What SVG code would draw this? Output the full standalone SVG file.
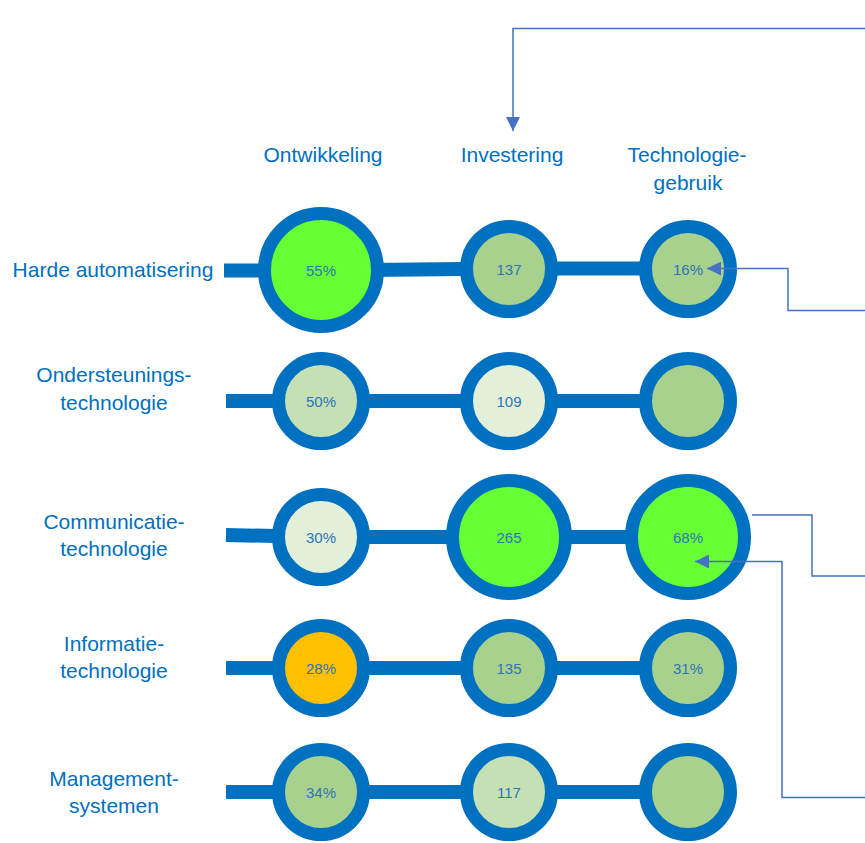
<svg xmlns="http://www.w3.org/2000/svg" width="865" height="843" viewBox="0 0 865 843">
<style>
.lbl{font-family:"Liberation Sans",Arial,sans-serif;font-size:21px;fill:#0070C0;text-anchor:middle}
.val{font-family:"Liberation Sans",Arial,sans-serif;font-size:15px;fill:#2E75B6;text-anchor:middle;dominant-baseline:central}
.ring{stroke:#0070C0;stroke-width:13}
.bar{stroke:#0070C0;stroke-width:14;fill:none}
.conn{stroke:#4472C4;stroke-width:1.5;fill:none}
.g1{fill:#66FF33}.g2{fill:#A9D18E}.g3{fill:#C5E0B4}.g4{fill:#E2F0D9}.o{fill:#FFC000}
</style>
<defs>
<marker id="ah" viewBox="0 0 10 10" refX="10" refY="5" markerWidth="10" markerHeight="10" markerUnits="userSpaceOnUse" orient="auto">
<path d="M0,0 L10,5 L0,10 Z" fill="#4472C4"/>
</marker>
<marker id="ahb" viewBox="0 0 14 14" refX="14" refY="7" markerWidth="14" markerHeight="14" markerUnits="userSpaceOnUse" orient="auto">
<path d="M0,0 L14,7 L0,14 Z" fill="#4472C4"/>
</marker>
</defs>
<g id="headers">
<text class="lbl" x="323" y="162">Ontwikkeling</text>
<text class="lbl" x="512" y="162">Investering</text>
<text class="lbl" x="687" y="162">Technologie-</text>
<text class="lbl" x="688" y="190">gebruik</text>
</g>
<g id="row-labels">
<text class="lbl" x="113" y="277">Harde automatisering</text>
<text class="lbl" x="114" y="382">Ondersteunings-</text>
<text class="lbl" x="114" y="410">technologie</text>
<text class="lbl" x="114" y="529">Communicatie-</text>
<text class="lbl" x="114" y="556">technologie</text>
<text class="lbl" x="114" y="651">Informatie-</text>
<text class="lbl" x="114" y="678">technologie</text>
<text class="lbl" x="114" y="786">Management-</text>
<text class="lbl" x="114" y="813">systemen</text>
</g>
<g id="bars">
<path class="bar" d="M224,270.5 L321,270.5 L509,268.5 L688,268.5"/>
<path class="bar" d="M226,401 L688,401"/>
<path class="bar" d="M226,535 L321,537 L688,537"/>
<path class="bar" d="M226,668 L688,668"/>
<path class="bar" d="M226,792 L688,792"/>
</g>
<g id="row1">
<g id="n-ha-ontw"><circle class="ring g1" cx="321" cy="270" r="56.5"/><text class="val" x="321" y="270">55%</text></g>
<g id="n-ha-inv"><circle class="ring g2" cx="509" cy="269" r="42.5"/><text class="val" x="509" y="269">137</text></g>
<g id="n-ha-tech"><circle class="ring g2" cx="688" cy="269" r="42.5"/><text class="val" x="688" y="269">16%</text></g>
</g>
<g id="row2">
<g id="n-os-ontw"><circle class="ring g3" cx="321" cy="401" r="42.5"/><text class="val" x="321" y="401">50%</text></g>
<g id="n-os-inv"><circle class="ring g4" cx="509" cy="401" r="42.5"/><text class="val" x="509" y="401">109</text></g>
<g id="n-os-tech"><circle class="ring g2" cx="688" cy="401" r="42.5"/></g>
</g>
<g id="row3">
<g id="n-ct-ontw"><circle class="ring g4" cx="321" cy="537" r="42.5"/><text class="val" x="321" y="537">30%</text></g>
<g id="n-ct-inv"><circle class="ring g1" cx="509" cy="537" r="56.5"/><text class="val" x="509" y="537">265</text></g>
<g id="n-ct-tech"><circle class="ring g1" cx="688" cy="537" r="56.5"/><text class="val" x="688" y="537">68%</text></g>
</g>
<g id="row4">
<g id="n-it-ontw"><circle class="ring o" cx="321" cy="668" r="42.5"/><text class="val" x="321" y="668">28%</text></g>
<g id="n-it-inv"><circle class="ring g2" cx="509" cy="668" r="42.5"/><text class="val" x="509" y="668">135</text></g>
<g id="n-it-tech"><circle class="ring g2" cx="688" cy="668" r="42.5"/><text class="val" x="688" y="668">31%</text></g>
</g>
<g id="row5">
<g id="n-ms-ontw"><circle class="ring g2" cx="321" cy="792" r="42.5"/><text class="val" x="321" y="792">34%</text></g>
<g id="n-ms-inv"><circle class="ring g3" cx="509" cy="792" r="42.5"/><text class="val" x="509" y="792">117</text></g>
<g id="n-ms-tech"><circle class="ring g2" cx="688" cy="792" r="42.5"/></g>
</g>
<g id="connectors">
<path class="conn" d="M865,28.5 L513,28.5 L513,131" marker-end="url(#ahb)"/>
<path class="conn" d="M865,310.5 L788,310.5 L788,268.5 L707,268.5" marker-end="url(#ahb)"/>
<path class="conn" d="M752,515 L812,515 L812,576 L865,576"/>
<path class="conn" d="M865,797.5 L782,797.5 L782,561.5 L695,561.5" marker-end="url(#ahb)"/>
</g>
</svg>
